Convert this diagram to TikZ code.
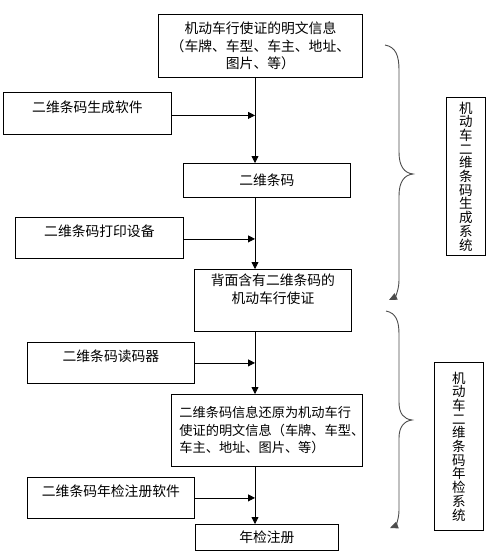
\documentclass[tikz,border=0pt]{standalone}
\usepackage{fontspec}
\setmainfont{Noto Sans CJK SC}
\usetikzlibrary{arrows.meta}
\tikzset{
  box/.style={draw, line width=0.8pt, inner sep=0pt, anchor=north west, align=center, font=\fontsize{13.8}{17.5}\selectfont},
  sidebox/.style={box, text height=10pt, text depth=12pt},
  flow/.style={line width=0.8pt, -{Triangle[length=7pt,width=7pt]}},
  brace/.style={line width=0.9pt, draw=black!70, -{Triangle[length=8pt,width=7pt]}},
  vtext/.style={draw, line width=0.8pt, inner sep=0pt, anchor=north west, align=center, font=\fontsize{13.5}{13.7}\selectfont}
}
\begin{document}
\begin{tikzpicture}[x=1pt,y=-1pt]
\useasboundingbox (0,0) rectangle (503,554);
% main boxes
\node[box, minimum width=204pt, minimum height=63pt] (b1) at (158,14) {机动车行使证的明文信息\\（车牌、车型、车主、地址、\\图片、等）};
\node[box, minimum width=167pt, minimum height=34pt] (b2) at (183,163) {二维条码};
\node[box, minimum width=157pt, minimum height=62pt] (b3) at (194,269) {背面含有二维条码的\\机动车行使证\\[6pt]};
\node[box, minimum width=191pt, minimum height=72pt, text width=191pt, align=left, font=\fontsize{13.2}{17.5}\selectfont] (b4) at (171,394) {\hspace*{8pt}二维条码信息还原为机动车行\\\hspace*{8pt}使证的明文信息（车牌、车型、\\\hspace*{8pt}车主、地址、图片、等）};
\node[box, minimum width=143pt, minimum height=26pt] (b5) at (195,524) {年检注册};
% side boxes
\node[sidebox, minimum width=168pt, minimum height=42pt] (s1) at (3,92) {二维条码生成软件};
\node[sidebox, minimum width=168pt, minimum height=41pt] (s2) at (15,217) {二维条码打印设备};
\node[sidebox, minimum width=167pt, minimum height=41pt] (s3) at (27,342) {二维条码读码器};
\node[sidebox, minimum width=167pt, minimum height=41pt] (s4) at (27,477) {二维条码年检注册软件};
% main line x
\coordinate (X) at (255,0);
\draw[flow] (b1.south -| X) -- (b2.north -| X);
\draw[flow] (b2.south -| X) -- (b3.north -| X);
\draw[flow] (b3.south -| X) -- (b4.north -| X);
\draw[flow] (b4.south -| X) -- (b5.north -| X);
\draw[flow] ([yshift=-2pt]s1.east) -- ([yshift=-2pt]s1.east -| X);
\draw[flow] ([yshift=-1pt]s2.east) -- ([yshift=-1pt]s2.east -| X);
\draw[flow] (s3.east) -- (s3.east -| X);
\draw[flow] (s4.east) -- (s4.east -| X);
% braces
\coordinate (t1) at (385,45);
\coordinate (e1) at (389,300);
\coordinate (t2) at (386,311);
\coordinate (e2) at (390,528);
\draw[brace] (t1) .. controls (396,47) and (399,56) .. (399,70) -- (399,152)
  .. controls (399,166) and (404,173) .. (413,174)
  .. controls (404,175) and (399,182) .. (399,196) -- (399,280)
  .. controls (399,290) and (395,297) .. (e1);
\draw[brace] (t2) .. controls (396,313) and (399,321) .. (399,334) -- (399,402)
  .. controls (399,414) and (404,419) .. (412,420)
  .. controls (404,421) and (399,427) .. (399,438) -- (399,510)
  .. controls (399,520) and (395,526) .. (e2);
% system boxes
\node[vtext, minimum width=39pt, minimum height=158pt] (g1) at (446,97) {机\\动\\车\\二\\维\\条\\码\\生\\成\\系\\统};
\node[vtext, minimum width=49pt, minimum height=168pt] (g2) at (434,362) {机\\动\\车\\二\\维\\条\\码\\年\\检\\系\\统};
\end{tikzpicture}
\end{document}
